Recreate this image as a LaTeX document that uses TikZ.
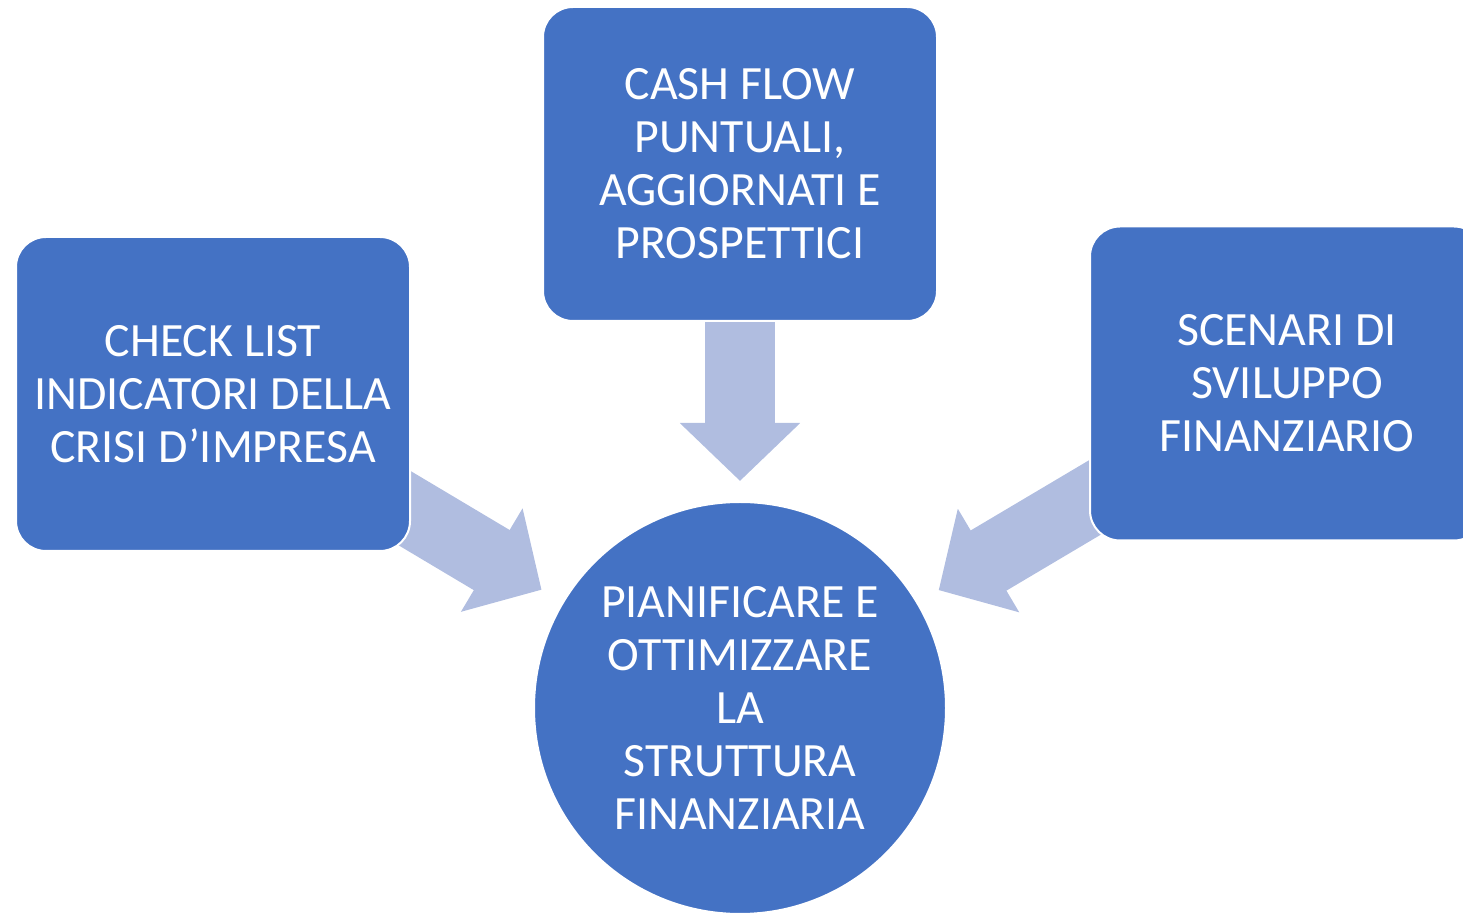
\documentclass[tikz,border=0pt]{standalone}
\usepackage{fontspec}
\setmainfont{Carlito}
\usetikzlibrary{arrows.meta, backgrounds}
\definecolor{boxblue}{HTML}{4472C4}
\definecolor{arrowblue}{HTML}{B0BDE0}

\begin{document}
\begin{tikzpicture} [x=0.5pt, y=-0.5pt, align=center,
	font=\fontsize{23.9pt}{26.5pt}\selectfont,
	box/.style={rectangle, rounded corners=15pt, draw=white, line width=1pt, fill=boxblue, text=white, minimum width=197pt, minimum height=157pt, inner sep=0pt},
	goal/.style={circle, draw=white, line width=1pt, fill=boxblue, text=white, minimum size=206pt, inner sep=0pt},
	flow/.style={draw=arrowblue, line width=35pt, -{Triangle[length=29pt, width=58.5pt]}, shorten >=12pt}]
\clip (0,0) rectangle (1463,913);
\path (213,394) node[box] (check) {CHECK LIST\\INDICATORI DELLA\\CRISI D’IMPRESA}
	  (740,164) node[box] (cash) {CASH FLOW\\PUNTUALI,\\AGGIORNATI E\\PROSPETTICI}
	  (1287,383.5) node[box] (scen) {SCENARI DI\\SVILUPPO\\FINANZIARIO}
	  (740,708) node[goal] (plan) {PIANIFICARE E\\OTTIMIZZARE\\LA\\STRUTTURA\\FINANZIARIA};

\begin{scope}[on background layer]
\draw[flow] (check.center) to (plan);
\draw[flow, shorten >=10pt] (cash.center) to (plan);
\draw[flow] (scen.center) to (plan);
\end{scope}

\end{tikzpicture}
\end{document}
